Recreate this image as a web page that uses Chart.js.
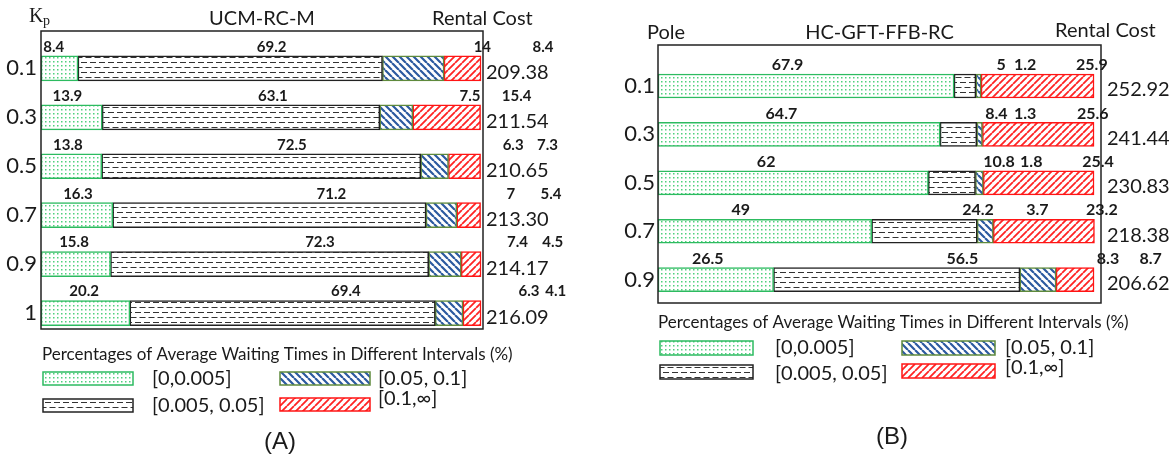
<!DOCTYPE html>
<html>
<head>
<meta charset="utf-8">
<script src="https://cdn.jsdelivr.net/npm/chart.js@4.4.1/dist/chart.umd.min.js"></script>
<style>
  body { margin: 0; background: #fff; }
  #wrap { position: relative; width: 1175px; height: 464px; }
  canvas { position: absolute; top: 0; }
  #ucm { left: 0; }
  #hc { left: 600px; }
</style>
</head>
<body>
<div id="wrap">
  <canvas id="ucm" width="600" height="464"></canvas>
  <canvas id="hc" width="575" height="464"></canvas>
</div>
<script>
// waiting-time intervals (legend order)
const intervals = ['[0,0.005]', '[0.005, 0.05]', '[0.05, 0.1]', '[0.1,\u221e]'];

// (A) UCM-RC-M, rows by Kp
const ucmKp = ['0.1', '0.3', '0.5', '0.7', '0.9', '1'];
const ucmLow = [8.4, 13.9, 13.8, 16.3, 15.8, 20.2];
const ucmMid = [69.2, 63.1, 72.5, 71.2, 72.3, 69.4];
const ucmHigh = [14, 7.5, 6.3, 7, 7.4, 6.3];
const ucmTop = [8.4, 15.4, 7.3, 5.4, 4.5, 4.1];
const ucmCost = [209.38, 211.54, 210.65, 213.30, 214.17, 216.09];

// (B) HC-GFT-FFB-RC, rows by pole
const hcPole = ['0.1', '0.3', '0.5', '0.7', '0.9'];
const hcLow = [67.9, 64.7, 62, 49, 26.5];
const hcMid = [5, 8.4, 10.8, 24.2, 56.5];
const hcHigh = [1.2, 1.3, 1.8, 3.7, 8.3];
const hcTop = [25.9, 25.6, 25.4, 23.2, 8.7];
const hcCost = [252.92, 241.44, 230.83, 218.38, 206.62];

// where the value labels sit along the % axis
const ucmLabelAt = [
  [2.9, 6.0, 6.1, 8.4, 7.5, 9.8],
  [52.4, 52.7, 57.0, 66.0, 63.4, 69.3],
  [100.3, 97.5, 107.3, 106.8, 108.3, 110.9],
  [114.1, 108.1, 115.1, 115.9, 116.3, 117.0]
];
const hcLabelAt = [
  [29.7, 28.3, 24.8, 19.0, 11.4],
  [78.7, 77.6, 78.2, 73.4, 69.8],
  [84.2, 84.2, 85.6, 87.0, 103.2],
  [99.5, 99.7, 100.9, 101.8, 113.0]
];

const FONT = 'Lato, "DejaVu Sans", sans-serif';
const INK = '#1a1a1a';

function tile(w, h, paint) {
  const c = document.createElement('canvas');
  c.width = w; c.height = h;
  const g = c.getContext('2d');
  g.fillStyle = '#fff';
  g.fillRect(0, 0, w, h);
  paint(g);
  return g.createPattern(c, 'repeat');
}

const fills = [
  // green dots
  tile(4, 4, g => {
    g.fillStyle = '#4fd07c';
    g.fillRect(1, 1, 1.5, 1.5);
  }),
  // gray dashes, staggered rows
  tile(9, 10, g => {
    g.strokeStyle = '#333';
    g.lineWidth = 1.2;
    g.beginPath();
    g.moveTo(0, 2.5); g.lineTo(6, 2.5);
    g.moveTo(4.5, 7.5); g.lineTo(9, 7.5);
    g.moveTo(0, 7.5); g.lineTo(1.5, 7.5);
    g.stroke();
  }),
  // blue back-slash hatching
  tile(7, 7, g => {
    g.strokeStyle = '#2c5aa0';
    g.lineWidth = 2.2;
    g.beginPath();
    for (let k = -7; k <= 7; k += 7) { g.moveTo(k, 0); g.lineTo(k + 7, 7); }
    g.stroke();
  }),
  // red forward-slash hatching
  tile(7, 7, g => {
    g.strokeStyle = '#ff2424';
    g.lineWidth = 1.8;
    g.beginPath();
    for (let k = -7; k <= 7; k += 7) { g.moveTo(k, 7); g.lineTo(k + 7, 0); }
    g.stroke();
  })
];
const edges = ['#2dbb60', '#222', '#5f8a3c', '#ff1414'];

function overlay(p) {
  return {
    id: 'overlay',
    afterDatasetsDraw(chart) {
      const ctx = chart.ctx;
      const a = chart.chartArea;
      const xs = chart.scales.x;
      ctx.save();

      // frame
      ctx.strokeStyle = '#222';
      ctx.lineWidth = 1.5;
      ctx.strokeRect(a.left, a.top, a.right - a.left, a.bottom - a.top);

      // value labels above each segment
      ctx.fillStyle = INK;
      ctx.font = 'bold ' + p.valueSize + 'px ' + FONT;
      ctx.textAlign = 'center';
      ctx.textBaseline = 'middle';
      chart.data.datasets.forEach((ds, i) => {
        chart.getDatasetMeta(i).data.forEach((bar, j) => {
          const x = xs.getPixelForValue(p.labelAt[i][j]);
          const y = bar.y - bar.height / 2 - 9;
          ctx.fillText(String(ds.data[j].x), x, y);
        });
      });

      // headers
      ctx.font = '20px ' + FONT;
      ctx.textAlign = 'center';
      ctx.fillText(p.title, (a.left + a.right) / 2, p.headY);
      ctx.textAlign = 'left';
      ctx.fillText('Rental Cost', p.costX, p.costY);
      p.drawAxisName(ctx);

      // legend
      ctx.font = '17px ' + FONT;
      ctx.fillText('Percentages of Average Waiting Times in Different Intervals (%)', p.legend.titleX, p.legend.titleY);
      ctx.font = '20px ' + FONT;
      p.legend.items.forEach((it, i) => {
        ctx.fillStyle = fills[i];
        ctx.fillRect(it.x, it.y, p.legend.w, p.legend.h);
        ctx.strokeStyle = edges[i];
        ctx.lineWidth = 1.5;
        ctx.strokeRect(it.x, it.y, p.legend.w, p.legend.h);
        ctx.fillStyle = INK;
        ctx.fillText(intervals[i], it.tx, it.ty);
      });

      // panel tag
      ctx.font = '24px "Liberation Sans", Arial, sans-serif';
      ctx.textAlign = 'center';
      ctx.fillText(p.tag, p.tagX, p.tagY);
      ctx.restore();
    }
  };
}

function drawPanel(id, cats, series, cost, p) {
  const rows = cats.map((c, i) => i);
  const yCommon = {
    type: 'linear',
    reverse: true,
    offset: false,
    bounds: 'data',
    min: p.yMin,
    max: p.yMax,
    grid: { display: false, drawTicks: false },
    border: { display: false },
    afterBuildTicks: axis => { axis.ticks = rows.map(v => ({ value: v })); }
  };
  new Chart(document.getElementById(id), {
    type: 'bar',
    data: {
      datasets: series.map((vals, i) => ({
        label: intervals[i],
        data: vals.map((v, j) => ({ x: v, y: j })),
        backgroundColor: fills[i],
        borderColor: edges[i],
        borderWidth: 1.5,
        borderSkipped: false,
        barThickness: p.barThickness
      }))
    },
    options: {
      indexAxis: 'y',
      responsive: false,
      animation: false,
      events: [],
      layout: { padding: { top: p.top, bottom: p.bottom, left: 0, right: 0 } },
      scales: {
        x: { type: 'linear', stacked: true, min: 0, max: p.xMax, display: false },
        y: Object.assign({}, yCommon, {
          position: 'left',
          stacked: true,
          afterFit: axis => { axis.width = p.leftW; },
          ticks: {
            autoSkip: false,
            padding: p.leftPad,
            color: INK,
            font: { family: FONT, size: 22 },
            callback: v => cats[v]
          }
        }),
        cost: Object.assign({}, yCommon, {
          position: 'right',
          afterFit: axis => { axis.width = p.rightW; },
          ticks: {
            autoSkip: false,
            padding: p.rightPad,
            labelOffset: 4,
            color: INK,
            font: { family: FONT, size: 20 },
            callback: v => cost[v].toFixed(2)
          }
        })
      },
      plugins: { legend: { display: false }, tooltip: { enabled: false } }
    },
    plugins: [overlay(p)]
  });
}

drawPanel('ucm', ucmKp, [ucmLow, ucmMid, ucmHigh, ucmTop], ucmCost, {
  top: 31, bottom: 135, leftW: 41, rightW: 117, leftPad: 4, rightPad: 3,
  yMin: -0.764, yMax: 5.326, xMax: 100.45, barThickness: 25,
  labelAt: ucmLabelAt, valueSize: 15,
  title: 'UCM-RC-M', headY: 19, costX: 432, costY: 19,
  drawAxisName(ctx) {
    ctx.font = '20px "Liberation Serif", serif';
    ctx.fillText('K', 29, 17);
    ctx.font = '14px "Liberation Serif", serif';
    ctx.fillText('p', 43, 21);
  },
  legend: {
    titleX: 42, titleY: 355, w: 90, h: 13,
    items: [
      { x: 43, y: 372, tx: 152, ty: 379 },
      { x: 43, y: 399, tx: 152, ty: 406 },
      { x: 280, y: 372, tx: 378, ty: 379 },
      { x: 280, y: 398, tx: 378, ty: 399 }
    ]
  },
  tag: '(A)', tagX: 280, tagY: 442
});

drawPanel('hc', hcPole, [hcLow, hcMid, hcHigh, hcTop], hcCost, {
  top: 45, bottom: 161, leftW: 58, rightW: 74, leftPad: 3, rightPad: 6,
  yMin: -0.847, yMax: 4.483, xMax: 101.6, barThickness: 24,
  labelAt: hcLabelAt, valueSize: 16,
  title: 'HC-GFT-FFB-RC', headY: 33, costX: 455, costY: 31,
  drawAxisName(ctx) {
    ctx.font = '20px ' + FONT;
    ctx.fillText('Pole', 47, 33);
  },
  legend: {
    titleX: 58, titleY: 323, w: 93, h: 14,
    items: [
      { x: 60, y: 341, tx: 175, ty: 348 },
      { x: 60, y: 365, tx: 175, ty: 374 },
      { x: 302, y: 341, tx: 405, ty: 348 },
      { x: 302, y: 364, tx: 405, ty: 368 }
    ]
  },
  tag: '(B)', tagX: 292, tagY: 437
});
</script>
</body>
</html>
